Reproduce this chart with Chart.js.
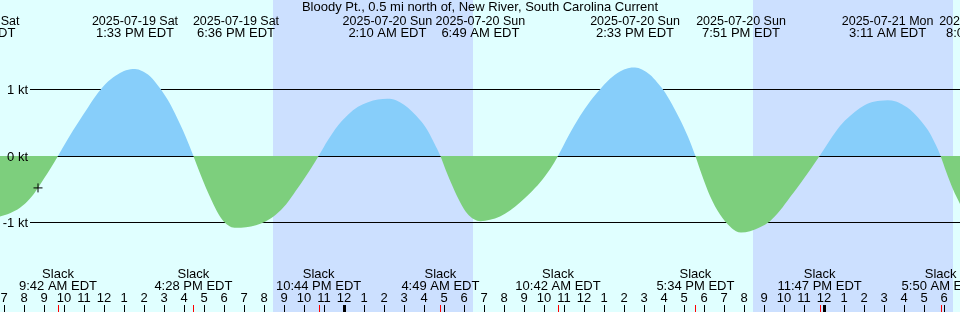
<!DOCTYPE html>
<html>
<head>
<meta charset="utf-8">
<script src="https://cdn.jsdelivr.net/npm/chart.js@4"></script>
<style>
  html, body { margin: 0; padding: 0; background: #e0ffff; }
  #chart { display: block; }
</style>
</head>
<body>
<canvas id="chart" width="960" height="312"></canvas>
<script>
const title = "Bloody Pt., 0.5 mi north of, New River, South Carolina Current";

// hours since 2025-07-19 00:00 EDT
const startHour = 6.8;
const endHour = 54.8;

// current speed (kt), roughly every half hour
const curveHours = [
  6.8, 7.3, 7.8, 8.3, 8.7, 9.0, 9.3, 9.7,
  10.2, 10.7, 11.2, 11.7, 12.2, 12.7, 13.1, 13.55, 13.9, 14.3, 14.8, 15.2, 15.55, 15.8, 16.1, 16.47,
  16.8, 17.1, 17.4, 17.7, 18.0, 18.3, 18.6, 19.1, 19.6, 20.1, 20.6, 21.1, 21.6, 22.1, 22.4, 22.73,
  23.2, 23.7, 24.2, 24.7, 25.2, 25.7, 26.17, 26.6, 27.0, 27.4, 27.8, 28.15, 28.5, 28.82,
  29.1, 29.45, 29.8, 30.15, 30.5, 30.82, 31.3, 31.8, 32.3, 32.8, 33.3, 33.8, 34.3, 34.7,
  35.2, 35.8, 36.3, 36.8, 37.3, 37.8, 38.2, 38.55, 38.9, 39.3, 39.65, 39.95, 40.4, 40.8, 41.2, 41.57,
  41.9, 42.3, 42.8, 43.3, 43.6, 43.85, 44.3, 44.8, 45.3, 45.8, 46.3, 46.8, 47.3, 47.78,
  48.3, 48.8, 49.3, 49.8, 50.3, 50.8, 51.18, 51.6, 52.0, 52.3, 52.7, 53.0, 53.3, 53.6, 53.83,
  54.1, 54.45, 54.8];
const curveKnots = [
  -0.91, -0.86, -0.78, -0.64, -0.48, -0.34, -0.20, 0,
  0.26, 0.50, 0.73, 0.95, 1.12, 1.23, 1.29, 1.31, 1.28, 1.20, 1.02, 0.84, 0.64, 0.48, 0.28, 0,
  -0.26, -0.48, -0.68, -0.86, -0.99, -1.06, -1.08, -1.07, -1.04, -0.98, -0.88, -0.73, -0.52, -0.30, -0.16, 0,
  0.24, 0.46, 0.62, 0.74, 0.81, 0.85, 0.86, 0.84, 0.77, 0.67, 0.54, 0.40, 0.20, 0,
  -0.22, -0.47, -0.69, -0.86, -0.95, -0.98, -0.96, -0.91, -0.82, -0.70, -0.56, -0.40, -0.20, 0,
  0.29, 0.60, 0.82, 1.0, 1.16, 1.27, 1.32, 1.33, 1.30, 1.22, 1.11, 1.0, 0.78, 0.55, 0.29, 0,
  -0.29, -0.60, -0.88, -1.06, -1.13, -1.15, -1.13, -1.07, -0.98, -0.82, -0.62, -0.42, -0.21, 0,
  0.24, 0.45, 0.60, 0.72, 0.80, 0.83, 0.84, 0.82, 0.76, 0.70, 0.58, 0.47, 0.34, 0.16, 0,
  -0.23, -0.50, -0.72];

// max flood / max ebb labels along the top
const eventHours = [5.62, 13.55, 18.6, 26.17, 30.82, 38.55, 43.85, 51.18, 56.05];
const eventDates = ["2025-07-19 Sat", "2025-07-19 Sat", "2025-07-19 Sat", "2025-07-20 Sun", "2025-07-20 Sun",
  "2025-07-20 Sun", "2025-07-20 Sun", "2025-07-21 Mon", "2025-07-21 Mon"];
const eventTimes = ["5:37 AM EDT", "1:33 PM EDT", "6:36 PM EDT", "2:10 AM EDT", "6:49 AM EDT",
  "2:33 PM EDT", "7:51 PM EDT", "3:11 AM EDT", "8:02 AM EDT"];

// slack water along the bottom
const slackHours = [9.7, 16.47, 22.73, 28.82, 34.7, 41.57, 47.78, 53.83];
const slackTimes = ["9:42 AM EDT", "4:28 PM EDT", "10:44 PM EDT", "4:49 AM EDT", "10:42 AM EDT",
  "5:34 PM EDT", "11:47 PM EDT", "5:50 AM EDT"];

// night (sunset -> sunrise)
const nightStarts = [20.45, 44.45];
const nightEnds = [30.45, 54.45];

const yLines = [1, 0, -1];
const yLineLabels = ["1 kt", "0 kt", "-1 kt"];

const nowHour = 8.7;
const nowKnots = -0.48;

const dayColor = "rgb(224, 255, 255)";
const nightColor = "rgb(204, 224, 255)";
const floodColor = "rgb(135, 206, 250)";
const ebbColor = "rgb(125, 207, 125)";
const font = "13px 'Liberation Sans'";
const dateFont = "12.5px 'Liberation Sans'";

function hourLabel(h) {
  let hr = h % 24;
  return String(hr % 12 == 0 ? 12 : hr % 12);
}

const tidePlugin = {
  id: "tide",
  beforeDraw(chart) {
    const ctx = chart.ctx;
    const x = chart.scales.x;
    ctx.save();
    ctx.fillStyle = dayColor;
    ctx.fillRect(0, 0, chart.width, chart.height);
    ctx.fillStyle = nightColor;
    for (let i = 0; i < nightStarts.length; i++) {
      let x0 = Math.round(x.getPixelForValue(nightStarts[i]));
      let x1 = Math.round(x.getPixelForValue(nightEnds[i]));
      ctx.fillRect(x0, 0, x1 - x0, chart.height);
    }
    ctx.restore();
  },
  beforeDatasetsDraw(chart) {
    const ctx = chart.ctx;
    const y = chart.scales.y;
    ctx.save();
    ctx.strokeStyle = "#000";
    ctx.lineWidth = 1;
    yLines.forEach(v => {
      let py = Math.floor(y.getPixelForValue(v)) + 0.5;
      ctx.beginPath();
      ctx.moveTo(30, py);
      ctx.lineTo(chart.width, py);
      ctx.stroke();
    });
    ctx.restore();
  },
  afterDatasetsDraw(chart) {
    const ctx = chart.ctx;
    const x = chart.scales.x;
    const y = chart.scales.y;
    ctx.save();
    ctx.fillStyle = "#000";
    ctx.font = font;
    ctx.textBaseline = "alphabetic";

    // y labels
    ctx.textAlign = "right";
    yLines.forEach((v, i) => {
      ctx.fillText(yLineLabels[i], 28, Math.floor(y.getPixelForValue(v)) + 5);
    });

    ctx.textAlign = "center";
    ctx.fillText(title, chart.width / 2, 11);

    eventHours.forEach((h, i) => {
      let px = x.getPixelForValue(h);
      ctx.font = dateFont;
      ctx.fillText(eventDates[i], px, 25);
      ctx.font = font;
      ctx.fillText(eventTimes[i], px, 37);
    });

    slackHours.forEach((h, i) => {
      let px = x.getPixelForValue(h);
      ctx.fillText("Slack", px, 278);
      ctx.fillText(slackTimes[i], px, 290);
    });

    // hour ticks
    for (let h = Math.ceil(startHour); h <= endHour; h++) {
      let px = Math.round(x.getPixelForValue(h));
      ctx.fillText(hourLabel(h), px, 302);
      if (h % 24 == 0) {
        ctx.fillRect(px - 1, 305, 3, 7);
      } else {
        ctx.fillRect(px, 305, 1, 7);
      }
    }
    ctx.fillStyle = "#f00";
    slackHours.forEach(h => {
      let px = Math.round(x.getPixelForValue(h));
      ctx.fillRect(px, 305, 1, 7);
    });
    ctx.restore();
  }
};

new Chart(document.getElementById("chart"), {
  type: "line",
  data: {
    datasets: [{
      label: "Now",
      data: [{ x: nowHour, y: nowKnots }],
      showLine: false,
      pointStyle: "cross",
      pointRadius: 4.5,
      borderColor: "#000",
      borderWidth: 1,
      order: 0,
    }, {
      label: "Current",
      data: curveHours.map((h, i) => ({ x: h, y: curveKnots[i] })),
      borderWidth: 0,
      borderColor: "rgba(0,0,0,0)",
      pointRadius: 0,
      cubicInterpolationMode: "monotone",
      fill: { target: "origin", above: floodColor, below: ebbColor },
      order: 1,
    }]
  },
  options: {
    responsive: false,
    animation: false,
    devicePixelRatio: 1,
    layout: { padding: 0, autoPadding: false },
    scales: {
      x: { type: "linear", min: startHour, max: endHour, display: false },
      y: { min: -2.346, max: 2.346, display: false }
    },
    plugins: { legend: { display: false }, tooltip: { enabled: false } }
  },
  plugins: [tidePlugin]
});
</script>
</body>
</html>
